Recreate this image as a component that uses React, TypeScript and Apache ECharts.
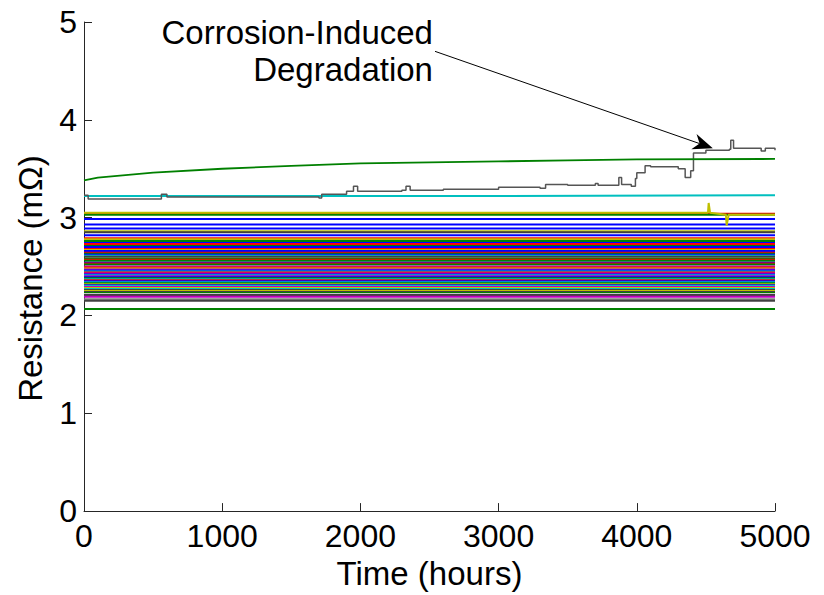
import React, { useEffect, useRef } from "react";
import * as echarts from "echarts";

// ---------- data ----------
const xTickValues = [0, 1000, 2000, 3000, 4000, 5000];
const yTickValues = [0, 1, 2, 3, 4, 5];
const fullSpan = [0, 5000];

// highest green trace (slowly rising)
const greenTopTime = [0, 100, 500, 1000, 1500, 2000, 2500, 3000, 3500, 4000, 5000];
const greenTopValue = [3.38, 3.41, 3.46, 3.5, 3.53, 3.555, 3.565, 3.575, 3.585, 3.595, 3.6];

// corroding trace (dark grey)
const degradedTime = [0, 30, 500, 560, 600, 1300, 1700, 1720, 1900, 1950, 1980, 2300, 2330, 2360, 2600, 2900, 3000, 3300, 3340, 3500, 3700, 3720, 3870, 3890, 3960, 3990, 4000, 4060, 4100, 4300, 4350, 4390, 4410, 4500, 4670, 4680, 4700, 4900, 4930, 5000];
const degradedValue = [3.23, 3.19, 3.19, 3.24, 3.21, 3.21, 3.2, 3.24, 3.27, 3.32, 3.27, 3.28, 3.32, 3.28, 3.29, 3.29, 3.31, 3.3, 3.34, 3.33, 3.35, 3.33, 3.41, 3.34, 3.32, 3.4, 3.46, 3.53, 3.52, 3.5, 3.41, 3.48, 3.66, 3.69, 3.7, 3.79, 3.71, 3.68, 3.71, 3.69];

// cyan trace just above the band
const cyanTime = [0, 3000, 5000];
const cyanValue = [3.22, 3.22, 3.23];

// yellow trace with a spike and a drop late in the test
const yellowSpikeTime = [0, 4515, 4520, 4530, 4645, 4650, 4665, 5000];
const yellowSpikeValue = [3.05, 3.05, 3.15, 3.05, 3.03, 2.92, 3.03, 3.03];

// dense band of healthy traces (flat)
const bandLevels = [
  3.04, 3.03, 2.985, 2.93, 2.89, 2.86, 2.85, 2.82, 2.79, 2.78, 2.76, 2.74, 2.73,
  2.71, 2.7, 2.68, 2.67, 2.66, 2.64, 2.63, 2.62, 2.61, 2.6, 2.58, 2.57, 2.56, 2.54, 2.53,
  2.52, 2.5, 2.49, 2.48, 2.47, 2.46, 2.45, 2.44, 2.43, 2.42, 2.41, 2.4, 2.39, 2.38, 2.37,
  2.36, 2.35, 2.34, 2.33, 2.32, 2.31, 2.3, 2.29, 2.28, 2.27, 2.26, 2.25, 2.24, 2.23, 2.22,
  2.21, 2.19, 2.165, 2.15, 2.065,
];
const bandColors = [
  "r", "g", "b", "b", "b", "y", "k", "b", "r", "y", "g", "b", "r",
  "g", "b", "r", "y", "b", "r", "g", "b", "c", "k", "g", "r", "g", "b", "r",
  "g", "m", "r", "y", "m", "b", "c", "r", "m", "b", "c", "m", "b", "g", "c",
  "r", "b", "c", "g", "y", "b", "c", "m", "y", "c", "k", "y", "k", "g", "w",
  "k", "m", "s", "k", "g",
];

const palette: Record<string, string> = {
  b: "#0000FF",
  g: "#008000",
  r: "#FF0000",
  c: "#00BFBF",
  m: "#BF00BF",
  y: "#BFBF00",
  k: "#404040",
  s: "#808080",
  w: "#C8C8C8",
};

// annotation anchors (data coordinates)
const arrowTail = [2540, 4.7];
const arrowTip = [4550, 3.71];
const labelAnchor = [2525, 4.89];
const labelLines = ["Corrosion-Induced", "Degradation"];

const FONT = "'Liberation Sans', Arial, Helvetica, sans-serif";

function pairs(t: number[], v: number[]) {
  return t.map((x, i) => [x, v[i]]);
}

export default function App() {
  const ref = useRef<HTMLDivElement>(null);

  useEffect(() => {
    if (!ref.current) return;
    const chart = echarts.init(ref.current, undefined, { renderer: "svg" });

    const series: any[] = [];
    bandLevels.forEach((lvl, i) => {
      series.push({
        type: "line",
        data: pairs(fullSpan, [lvl, lvl]),
        symbol: "none",
        silent: true,
        lineStyle: { width: 2, color: palette[bandColors[i]] },
      });
    });
    series.push({
      type: "line",
      data: pairs(yellowSpikeTime, yellowSpikeValue),
      symbol: "none",
      silent: true,
      lineStyle: { width: 2, color: palette.y },
    });
    series.push({
      type: "line",
      data: pairs(cyanTime, cyanValue),
      symbol: "none",
      silent: true,
      lineStyle: { width: 2, color: palette.c },
    });
    series.push({
      type: "line",
      step: "end",
      data: pairs(degradedTime, degradedValue),
      symbol: "none",
      silent: true,
      lineStyle: { width: 1.5, color: "#555555" },
    });
    series.push({
      type: "line",
      data: pairs(greenTopTime, greenTopValue),
      symbol: "none",
      silent: true,
      lineStyle: { width: 1.8, color: palette.g },
    });

    const axisCommon = {
      axisLine: { show: true, lineStyle: { color: "#262626", width: 1 } },
      axisTick: { show: true, inside: true, length: 8, lineStyle: { color: "#262626" } },
      splitLine: { show: false },
      axisLabel: {
        color: "#000",
        fontSize: 32,
        fontFamily: FONT,
        formatter: (v: number) => String(v),
      },
      nameTextStyle: { color: "#000", fontSize: 33, fontFamily: FONT },
    };

    chart.setOption({
      animation: false,
      backgroundColor: "#fff",
      grid: { left: 84, right: 49, top: 22, bottom: 77, containLabel: false },
      xAxis: {
        type: "value",
        min: xTickValues[0],
        max: xTickValues[xTickValues.length - 1],
        interval: 1000,
        name: "Time (hours)",
        nameLocation: "middle",
        nameGap: 45,
        ...axisCommon,
        nameTextStyle: { ...axisCommon.nameTextStyle, verticalAlign: "top" },
        axisLabel: { ...axisCommon.axisLabel, margin: 9 },
      },
      yAxis: {
        type: "value",
        min: yTickValues[0],
        max: yTickValues[yTickValues.length - 1],
        interval: 1,
        name: "Resistance (mΩ)",
        nameLocation: "middle",
        nameGap: 37,
        ...axisCommon,
        nameTextStyle: { ...axisCommon.nameTextStyle, padding: [0, 24, 0, 0] },
        axisLabel: { ...axisCommon.axisLabel, margin: 7 },
      },
      series,
    });

    const tail = chart.convertToPixel({ gridIndex: 0 }, arrowTail) as number[];
    const tip = chart.convertToPixel({ gridIndex: 0 }, arrowTip) as number[];
    const lab = chart.convertToPixel({ gridIndex: 0 }, labelAnchor) as number[];
    const dx = tip[0] - tail[0];
    const dy = tip[1] - tail[1];
    const len = Math.sqrt(dx * dx + dy * dy);
    const ux = dx / len;
    const uy = dy / len;
    const px = -uy;
    const py = ux;
    const headLen = 20;
    const headW = 8;
    const back = [tip[0] - ux * headLen, tip[1] - uy * headLen];
    const notch = [tip[0] - ux * headLen * 0.7, tip[1] - uy * headLen * 0.7];

    chart.setOption({
      graphic: [
        {
          type: "line",
          silent: true,
          shape: { x1: tail[0], y1: tail[1], x2: notch[0], y2: notch[1] },
          style: { stroke: "#000", lineWidth: 1 },
        },
        {
          type: "polygon",
          silent: true,
          shape: {
            points: [
              [tip[0], tip[1]],
              [back[0] + px * headW, back[1] + py * headW],
              [notch[0], notch[1]],
              [back[0] - px * headW, back[1] - py * headW],
            ],
          },
          style: { fill: "#000" },
        },
        {
          type: "text",
          silent: true,
          x: lab[0],
          y: lab[1],
          style: {
            text: labelLines[0],
            align: "right",
            verticalAlign: "middle",
            fontSize: 33,
            fontFamily: FONT,
            fill: "#000",
          },
        },
        {
          type: "text",
          silent: true,
          x: lab[0],
          y: lab[1] + 37,
          style: {
            text: labelLines[1],
            align: "right",
            verticalAlign: "middle",
            fontSize: 33,
            fontFamily: FONT,
            fill: "#000",
          },
        },
      ],
    });

    return () => chart.dispose();
  }, []);

  return <div ref={ref} style={{ width: 824, height: 595, position: "absolute", left: 0, top: 0 }} />;
}
